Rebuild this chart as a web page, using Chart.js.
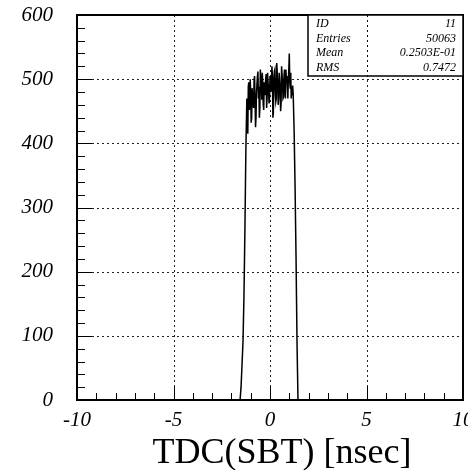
<!DOCTYPE html>
<html>
<head>
<meta charset="utf-8">
<script src="https://cdn.jsdelivr.net/npm/chart.js@4/dist/chart.umd.min.js"></script>
<style>
  html, body { margin: 0; padding: 0; background: #fff; overflow: hidden; }
  #wrap { position: relative; width: 468px; height: 470px; }
</style>
</head>
<body>
<div id="wrap"><canvas id="c" width="468" height="470"></canvas></div>
<script>
// ---- data ----
const binCenters = [
  -10, -1.60, -1.55, -1.50, -1.45, -1.40, -1.35, -1.30, -1.25,
  -1.200, -1.175, -1.150, -1.125, -1.100, -1.075, -1.050, -1.025, -1.000, -0.975,
  -0.950, -0.925, -0.900, -0.875, -0.850, -0.825, -0.800, -0.775, -0.750, -0.725,
  -0.700, -0.675, -0.650, -0.625, -0.600, -0.575, -0.550, -0.525, -0.500, -0.475,
  -0.450, -0.425, -0.400, -0.375, -0.350, -0.325, -0.300, -0.275, -0.250, -0.225,
  -0.200, -0.175, -0.150, -0.125, -0.100, -0.075, -0.050, -0.025, 0.000, 0.025,
  0.050, 0.075, 0.100, 0.125, 0.150, 0.175, 0.200, 0.225, 0.250, 0.275,
  0.300, 0.325, 0.350, 0.375, 0.400, 0.425, 0.450, 0.475, 0.500, 0.525,
  0.550, 0.575, 0.600, 0.625, 0.650, 0.675, 0.700, 0.725, 0.750, 0.775,
  0.800, 0.825, 0.850, 0.875, 0.900, 0.925, 0.950, 0.975, 1.000, 1.025,
  1.050, 1.075, 1.100, 1.125, 1.150, 1.175, 1.200,
  1.25, 1.30, 1.35, 1.40, 1.45, 1.50, 10
];
const counts = [
  0, 0, 0, 20, 55, 90, 160, 265, 390,
  470, 430, 415, 488, 495, 452, 460, 500, 478, 432,
  440, 486, 470, 462, 455, 498, 505, 470, 425, 440,
  478, 492, 505, 512, 470, 488, 440, 455, 515, 500,
  490, 468, 510, 495, 460, 452, 495, 480, 475, 500,
  508, 455, 470, 510, 495, 485, 462, 470, 505, 490,
  480, 498, 520, 505, 440, 448, 500, 512, 515, 478,
  465, 470, 525, 510, 490, 460, 470, 510, 498, 485,
  450, 462, 520, 508, 495, 470, 472, 505, 515, 480,
  470, 515, 498, 505, 490, 470, 500, 515, 540, 495,
  485, 510, 470, 480, 475, 490, 478,
  420, 330, 220, 90, 0, 0, 0
];
const xTickLabels = [-10, -5, 0, 5, 10];
const yTickLabels = [0, 100, 200, 300, 400, 500, 600];
const statsLabels = ['ID', 'Entries', 'Mean', 'RMS'];
const statsValues = ['11', '50063', '0.2503E-01', '0.7472'];
const xTitle = 'TDC(SBT) [nsec]';

const points = binCenters.map((x, i) => ({ x: x, y: counts[i] }));
const tickFont = { family: 'Liberation Serif', size: 21, style: 'italic' };

const decor = {
  id: 'decor',
  beforeDatasetsDraw(chart) {
    const { ctx, chartArea: a, scales: { x, y } } = chart;
    ctx.save();
    ctx.strokeStyle = '#222';
    ctx.lineWidth = 1;
    ctx.setLineDash([2, 3]);
    [-5, 0, 5].forEach(v => {
      const px = Math.round(x.getPixelForValue(v)) + 0.5;
      ctx.beginPath(); ctx.moveTo(px, a.top); ctx.lineTo(px, a.bottom); ctx.stroke();
    });
    [100, 200, 300, 400, 500].forEach(v => {
      const py = Math.round(y.getPixelForValue(v)) + 0.5;
      ctx.beginPath(); ctx.moveTo(a.left, py); ctx.lineTo(a.right, py); ctx.stroke();
    });
    ctx.restore();
  },
  afterDatasetsDraw(chart) {
    const { ctx, chartArea: a, scales: { x, y } } = chart;
    ctx.save();
    ctx.strokeStyle = '#000';
    ctx.lineWidth = 1;
    ctx.setLineDash([]);
    for (let v = -10; v <= 10; v += 1) {
      const px = Math.round(x.getPixelForValue(v)) + 0.5;
      const len = (v % 5 === 0) ? 14 : 7;
      ctx.beginPath(); ctx.moveTo(px, a.bottom); ctx.lineTo(px, a.bottom - len); ctx.stroke();
    }
    for (let v = 0; v <= 600; v += 20) {
      const py = Math.round(y.getPixelForValue(v)) + 0.5;
      const len = (v % 100 === 0) ? 15 : 8;
      ctx.beginPath(); ctx.moveTo(a.left, py); ctx.lineTo(a.left + len, py); ctx.stroke();
    }
    // frame
    ctx.lineWidth = 2;
    ctx.strokeRect(a.left, a.top, a.right - a.left, a.bottom - a.top);

    // stats box
    const bx = 308, by = a.top, bw = a.right - 308, bh = 61;
    ctx.fillStyle = '#fff';
    ctx.fillRect(bx, by, bw, bh);
    ctx.lineWidth = 1.5;
    ctx.strokeRect(bx, by, bw, bh);
    ctx.lineWidth = 1;
    ctx.setLineDash([2, 3]);
    ctx.beginPath(); ctx.moveTo(367.5, by); ctx.lineTo(367.5, by + bh); ctx.stroke();
    ctx.setLineDash([]);
    ctx.fillStyle = '#000';
    ctx.font = 'italic 12px "Liberation Serif"';
    ctx.textBaseline = 'alphabetic';
    const baselines = [26.5, 41.5, 56, 71];
    statsLabels.forEach((t, i) => {
      ctx.textAlign = 'left';
      ctx.fillText(t, 316, baselines[i]);
      ctx.textAlign = 'right';
      ctx.fillText(statsValues[i], 456, baselines[i]);
    });

    // x title
    ctx.font = '36px "Liberation Serif"';
    ctx.textAlign = 'center';
    ctx.fillText(xTitle, 282, 463);
    ctx.restore();
  }
};

new Chart(document.getElementById('c'), {
  type: 'line',
  data: {
    datasets: [{
      data: points,
      borderColor: '#000',
      borderWidth: 1.5,
      pointRadius: 0,
      tension: 0.0001,
      fill: false
    }]
  },
  options: {
    responsive: false,
    animation: false,
    layout: { padding: { left: 0, right: 5, top: 15, bottom: 0 } },
    plugins: { legend: { display: false }, tooltip: { enabled: false } },
    scales: {
      x: {
        type: 'linear', min: -10, max: 10,
        grid: { display: false, drawTicks: false },
        border: { display: false },
        ticks: {
          stepSize: 5, autoSkip: false, maxRotation: 0, padding: 8,
          color: '#000', font: tickFont,
          callback: v => xTickLabels.includes(v) ? String(v) : ''
        },
        afterFit: s => { s.height = 70; s.paddingLeft = 0; s.paddingRight = 0; }
      },
      y: {
        type: 'linear', min: 0, max: 600,
        grid: { display: false, drawTicks: false },
        border: { display: false },
        ticks: {
          stepSize: 100, autoSkip: false, padding: 24,
          color: '#000', font: tickFont,
          callback: v => yTickLabels.includes(v) ? String(v) : ''
        },
        afterFit: s => { s.width = 77; s.paddingTop = 0; s.paddingBottom = 0; }
      }
    }
  },
  plugins: [decor]
});
</script>
</body>
</html>
